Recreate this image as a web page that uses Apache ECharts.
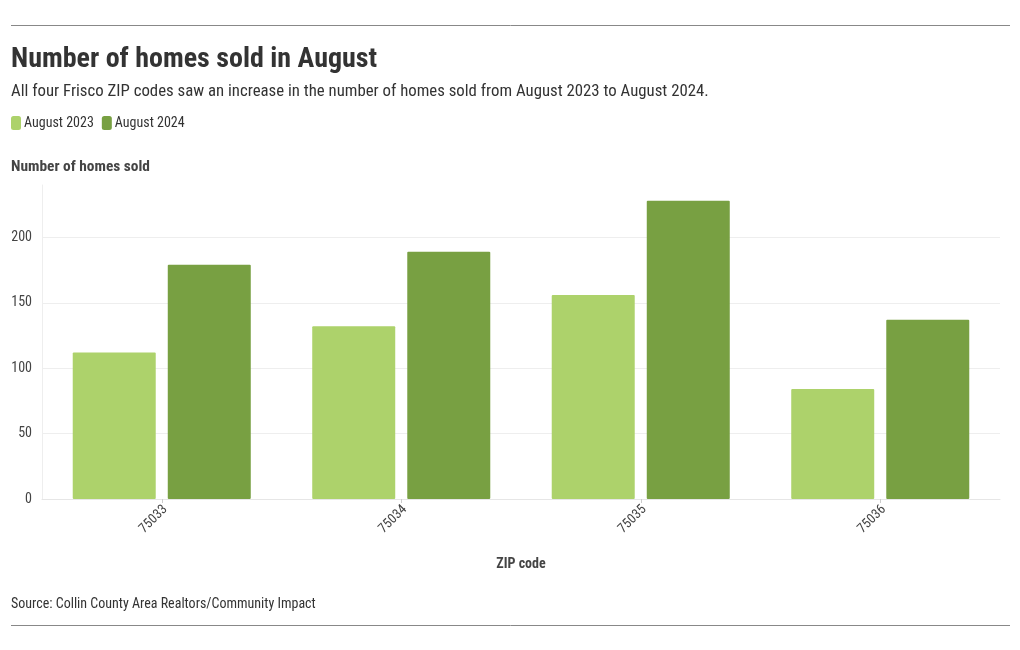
<!DOCTYPE html>
<html>
<head>
<meta charset="utf-8">
<script src="https://cdn.jsdelivr.net/npm/echarts@6/dist/echarts.min.js"></script>
<style>
html,body{margin:0;padding:0;background:#fff;}
#chart{width:1020px;height:650px;}
</style>
</head>
<body>
<div id="chart"></div>
<script>
const categories = ['75033', '75034', '75035', '75036'];
const seriesNames = ['August 2023', 'August 2024'];
const aug2023 = [112, 132, 156, 84];
const aug2024 = [179, 189, 228, 137];
const yTicks = [0, 50, 100, 150, 200];

const FONT = '"Roboto Condensed", "Liberation Sans Narrow", "DejaVu Sans Condensed", Roboto, sans-serif';
const chart = echarts.init(document.getElementById('chart'), null, {renderer: 'canvas'});
chart.setOption({
  backgroundColor: '#ffffff',
  textStyle: {fontFamily: FONT},
  color: ['#add26b', '#78a042'],
  title: [
    {text: 'Number of homes sold in August', left: 11, top: 46, padding: 0,
     textStyle: {fontFamily: FONT, fontSize: 28, fontWeight: 'bold', color: '#333333'}},
    {text: 'All four Frisco ZIP codes saw an increase in the number of homes sold from August 2023 to August 2024.', left: 11, top: 83, padding: 0,
     textStyle: {fontFamily: FONT, fontSize: 16.8, fontWeight: 'normal', color: '#333333'}},
    {text: 'Number of homes sold', left: 11, top: 160, padding: 0,
     textStyle: {fontFamily: FONT, fontSize: 15.4, fontWeight: 'bold', color: '#444444'}},
    {text: 'Source: Collin County Area Realtors/Community Impact', left: 11, top: 597, padding: 0,
     textStyle: {fontFamily: FONT, fontSize: 14, fontWeight: 'normal', color: '#333333'}}
  ],
  legend: {
    data: seriesNames, left: 11, top: 116, padding: 0, icon: 'roundRect',
    itemWidth: 10, itemHeight: 14, itemGap: 8,
    textStyle: {fontFamily: FONT, fontSize: 14, color: '#333333', padding: [0, 0, 0, -2]}
  },
  graphic: [
    {type: 'line', shape: {x1: 11, y1: 25.5, x2: 1010, y2: 25.5}, style: {stroke: '#888888', lineWidth: 1}},
    {type: 'line', shape: {x1: 11, y1: 625.5, x2: 1010, y2: 625.5}, style: {stroke: '#888888', lineWidth: 1}}
  ],
  grid: {left: 42, right: 20, top: 185, bottom: 151, containLabel: false},
  xAxis: {
    type: 'category', data: categories,
    name: 'ZIP code', nameLocation: 'middle', nameGap: 58,
    nameTextStyle: {fontFamily: FONT, fontSize: 14, fontWeight: 'bold', color: '#444444'},
    axisLine: {show: true, lineStyle: {color: '#e6e6e6'}},
    axisTick: {show: true, alignWithLabel: true, length: 4, lineStyle: {color: '#cccccc'}},
    axisLabel: {rotate: 45, fontFamily: FONT, fontSize: 13.5, color: '#444444', margin: 12,
      padding: [0, -5, 0, 0]}
  },
  yAxis: {
    type: 'value', min: 0, max: 240, interval: 50,
    axisLine: {show: true, lineStyle: {color: '#eeeeee'}},
    axisTick: {show: false},
    axisLabel: {fontFamily: FONT, fontSize: 14, color: '#444444', margin: 10,
      showMaxLabel: false,
      formatter: v => (yTicks.indexOf(v) >= 0 ? String(v) : '')},
    splitLine: {show: true, showMaxLine: false, lineStyle: {color: '#eeeeee'}}
  },
  series: [
    {name: seriesNames[0], type: 'bar', data: aug2023, barWidth: 83, barGap: '14.5%',
     itemStyle: {borderRadius: 1}},
    {name: seriesNames[1], type: 'bar', data: aug2024, barWidth: 83,
     itemStyle: {borderRadius: 1}}
  ],
  animation: false
});
</script>
</body>
</html>
